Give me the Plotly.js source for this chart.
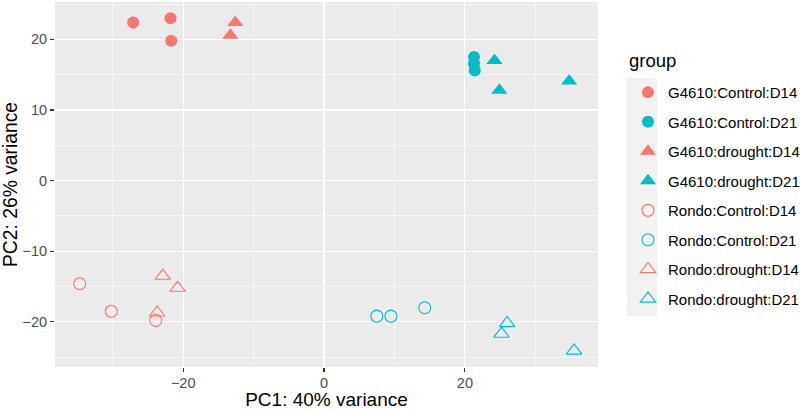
<!DOCTYPE html>
<html>
<head>
<meta charset="utf-8">
<script src="https://cdn.plot.ly/plotly-3.0.1.min.js"></script>
<style>html,body{margin:0;padding:0;background:#fff}#chart{width:800px;height:410px}</style>
</head>
<body>
<div id="chart"></div>
<script>
// Data
const groupNames = ["G4610:Control:D14","G4610:Control:D21","G4610:drought:D14","G4610:drought:D21",
                    "Rondo:Control:D14","Rondo:Control:D21","Rondo:drought:D14","Rondo:drought:D21"];
const pc1_G4610_Control_D14 = [-27.1, -21.8, -21.7];
const pc2_G4610_Control_D14 = [22.4, 23.0, 19.8];
const pc1_G4610_Control_D21 = [21.3, 21.3, 21.4];
const pc2_G4610_Control_D21 = [17.5, 16.6, 15.6];
const pc1_G4610_drought_D14 = [-12.6, -13.3];
const pc2_G4610_drought_D14 = [22.4, 20.6];
const pc1_G4610_drought_D21 = [24.2, 24.9, 34.8];
const pc2_G4610_drought_D21 = [17.0, 12.8, 14.1];
const pc1_Rondo_Control_D14 = [-34.7, -30.2, -23.9];
const pc2_Rondo_Control_D14 = [-14.6, -18.5, -19.8];
const pc1_Rondo_Control_D21 = [7.5, 9.5, 14.3];
const pc2_Rondo_Control_D21 = [-19.2, -19.2, -18.0];
const pc1_Rondo_drought_D14 = [-22.9, -20.8, -23.7];
const pc2_Rondo_drought_D14 = [-13.5, -15.2, -18.7];
const pc1_Rondo_drought_D21 = [26.0, 25.2, 35.5];
const pc2_Rondo_drought_D21 = [-20.2, -21.7, -24.1];
const xTicks = [-20, 0, 20];
const yTicks = [-20, -10, 0, 10, 20];

const RED = "#F8766D", TEAL = "#00BFC4";
const xs = [pc1_G4610_Control_D14, pc1_G4610_Control_D21, pc1_G4610_drought_D14, pc1_G4610_drought_D21,
            pc1_Rondo_Control_D14, pc1_Rondo_Control_D21, pc1_Rondo_drought_D14, pc1_Rondo_drought_D21];
const ys = [pc2_G4610_Control_D14, pc2_G4610_Control_D21, pc2_G4610_drought_D14, pc2_G4610_drought_D21,
            pc2_Rondo_Control_D14, pc2_Rondo_Control_D21, pc2_Rondo_drought_D14, pc2_Rondo_drought_D21];
const colors = [RED, TEAL, RED, TEAL, RED, TEAL, RED, TEAL];
const symbols = ["circle","circle","triangle-up","triangle-up","circle-open","circle-open","triangle-up-open","triangle-up-open"];
const sizes = [12, 12, 14, 14, 12, 12, 13.5, 13.5];

const traces = groupNames.map((n, i) => ({
  type: "scatter", mode: "markers", name: n, legendgroup: "g" + i,
  x: xs[i], y: ys[i],
  marker: {symbol: symbols[i], size: sizes[i], color: colors[i], line: {color: colors[i], width: symbols[i].includes("open") ? 1.1 : 0}}
}));

const L = 55, R = 202, T = 2, B = 43;
const W = 800, H = 410;
const pw = W - L - R, ph = H - T - B;
const px2x = p => (p - L) / pw;
const py2y = p => (H - B - p) / ph;

const layout = {
  width: W, height: H,
  margin: {l: L, r: R, t: T, b: B},
  paper_bgcolor: "#FFFFFF",
  plot_bgcolor: "#EBEBEB",
  font: {family: "Liberation Sans, Arial, sans-serif", color: "#4D4D4D"},
  xaxis: {
    range: [-38.2, 38.9], tickvals: xTicks, ticks: "outside", ticklen: 4, tickcolor: "#333333", tickwidth: 1.1,
    showgrid: true, gridcolor: "#FFFFFF", gridwidth: 1.1, zeroline: false, showline: false,
    tickfont: {size: 14.5, color: "#4D4D4D"}, automargin: false, ticklabelstandoff: -1,
    minor: {tickvals: [-30, -10, 10, 30], showgrid: true, gridcolor: "#FFFFFF", gridwidth: 0.5, ticks: ""},
    title: {text: "PC1: 40% variance", font: {size: 19, color: "#000000"}, standoff: 8}
  },
  yaxis: {
    range: [-26.4, 25.3], tickvals: yTicks, ticks: "outside", ticklen: 4, tickcolor: "#333333", tickwidth: 1.1,
    showgrid: true, gridcolor: "#FFFFFF", gridwidth: 1.1, zeroline: false, showline: false,
    tickfont: {size: 14.5, color: "#4D4D4D"}, automargin: false,
    minor: {tickvals: [-25, -15, -5, 5, 15, 25], showgrid: true, gridcolor: "#FFFFFF", gridwidth: 0.5, ticks: ""},
    title: {text: "PC2: 26% variance", font: {size: 19.3, color: "#000000"}, standoff: 2}
  },
  showlegend: true,
  legend: {
    xref: "container", yref: "container",
    x: 628 / W, xanchor: "left", y: 1 - 76 / H, yanchor: "top",
    maxheight: 380,
    traceorder: "grouped", tracegroupgap: 7,
    bgcolor: "rgba(0,0,0,0)", borderwidth: 0,
    font: {size: 15, color: "#000000"},
    itemclick: false
  },
  annotations: [{
    text: "group", xref: "paper", yref: "paper", x: px2x(627), y: py2y(73),
    xanchor: "left", yanchor: "bottom", showarrow: false,
    font: {size: 18.5, color: "#000000"}
  }],
  shapes: [{
    type: "rect", xref: "paper", yref: "paper", layer: "below",
    x0: px2x(627), x1: px2x(657), y0: py2y(78), y1: py2y(316),
    fillcolor: "#F2F2F2", line: {width: 0}
  }]
};

Plotly.newPlot("chart", traces, layout, {displayModeBar: false, staticPlot: true});
</script>
</body>
</html>
